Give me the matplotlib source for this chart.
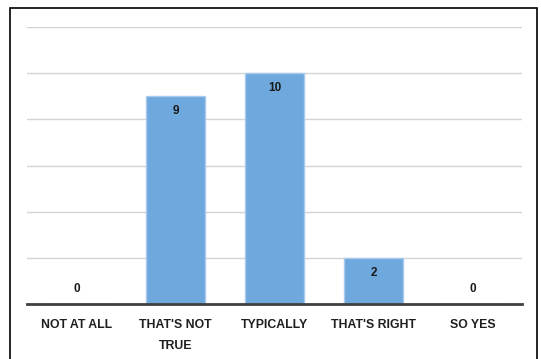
import matplotlib
matplotlib.use("Agg")
import matplotlib.pyplot as plt
from matplotlib.patches import Rectangle

categories = ["NOT AT ALL", "THAT'S NOT\nTRUE", "TYPICALLY", "THAT'S RIGHT", "SO YES"]
values = [0, 9, 10, 2, 0]

W, H = 541, 359
fig = plt.figure(figsize=(W/100, H/100), dpi=100)
fig.patch.set_facecolor("white")

# outer border (bottom edge runs off the image)
fig.patches.append(Rectangle((10/W, -0.05), (537-10)/W, 1.05 - 8/H, transform=fig.transFigure,
                             fill=False, edgecolor="black", linewidth=1.2))

ax = fig.add_axes([27/W, (H-304)/H, (522-27)/W, (304-27)/H])
x = list(range(len(categories)))
bars = ax.bar(x, values, width=0.59, color="#6fa8dc", edgecolor="#a8cbed", linewidth=1, zorder=2)
ax.set_xlim(-0.5, len(categories)-0.5)
ax.set_ylim(0, 12)
ax.set_yticks([0, 2, 4, 6, 8, 10, 12])
ax.yaxis.grid(True, color="#d4d4d4", linewidth=1, zorder=0)
ax.set_axisbelow(True)
ax.tick_params(axis="y", left=False, labelleft=False)
ax.tick_params(axis="x", bottom=False, pad=7)
for s in ["top", "right", "left"]:
    ax.spines[s].set_visible(False)
ax.spines["bottom"].set_color("#404040")
ax.spines["bottom"].set_linewidth(2)
ax.spines["bottom"].set_zorder(3)
ax.set_xticks(x)
ax.set_xticklabels(categories, fontsize=8.8, fontweight="bold", family="Liberation Sans",
                   color="#1f1f1f", linespacing=2.05, va="top")

for xi, v in zip(x, values):
    off = -15 if v > 0 else 15
    ax.annotate(str(v), (xi, v), xytext=(0, off), textcoords="offset pixels",
                ha="center", va="center", fontsize=8.5, fontweight="bold",
                family="Liberation Sans", color="#1a1a1a", zorder=4)

fig.savefig("out.png", dpi=100)
